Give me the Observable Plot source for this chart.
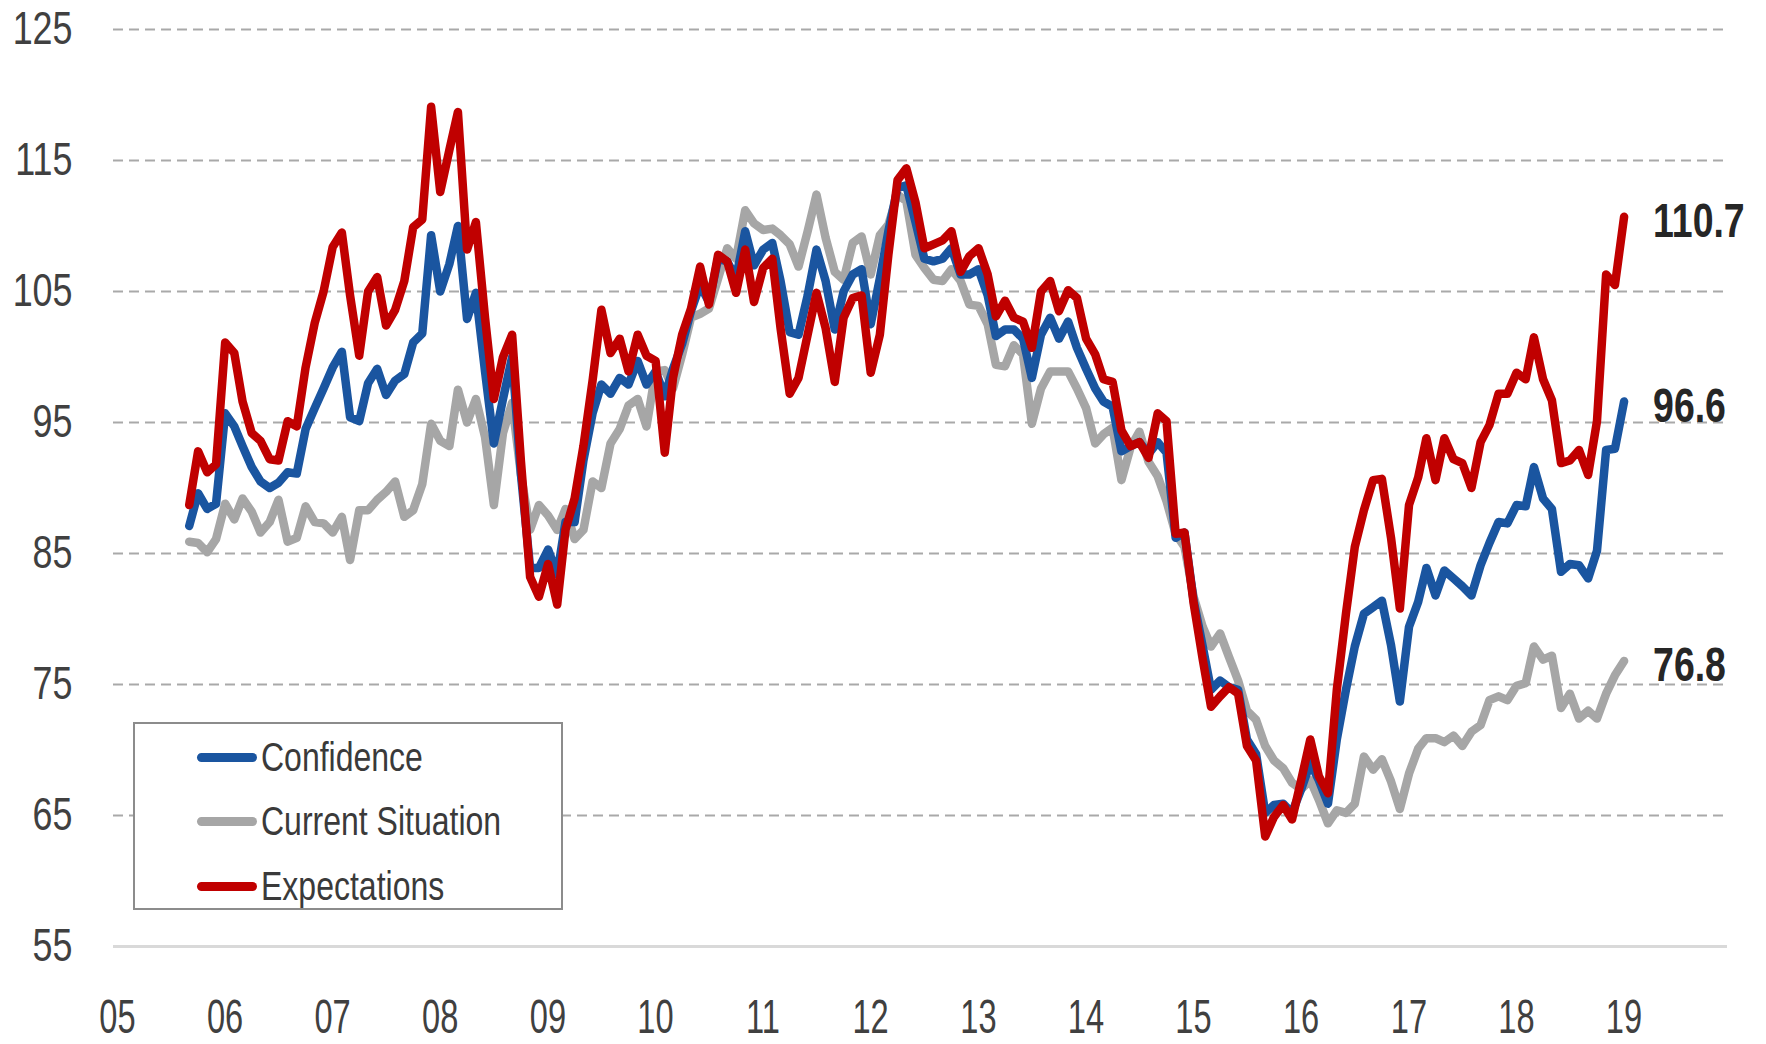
<!DOCTYPE html>
<html><head><meta charset="utf-8">
<script src="https://cdn.jsdelivr.net/npm/d3@7"></script>
<script src="https://cdn.jsdelivr.net/npm/@observablehq/plot@0.6"></script>
<style>
html,body{margin:0;padding:0;background:#fff;}
#wrap{position:relative;width:1766px;height:1044px;overflow:hidden;}
#legend{position:absolute;left:133px;top:722px;width:430px;height:188px;border:2px solid #8c8c8c;box-sizing:border-box;background:#fff;font-family:"Liberation Sans",Arial,sans-serif;}
.item{position:absolute;left:62px;height:44px;display:flex;align-items:center;}
.sw{width:60px;height:9px;border-radius:4.5px;flex:none;}
.lab{font-size:40px;color:#3a3a3a;display:inline-block;transform:scaleX(0.8);transform-origin:left center;white-space:nowrap;margin-left:4px;}
</style></head><body><div id="wrap"><div id="chart"></div><div id="legend"></div></div>
<script>
// Monthly series, September 2005 to January 2019
const seriesNames = ["Confidence", "Current Situation", "Expectations"];
const seriesColors = ["#1a55a0", "#a6a6a6", "#c00000"];
const yTicks = [55, 65, 75, 85, 95, 105, 115, 125];
const yearTicks = [2005,2006,2007,2008,2009,2010,2011,2012,2013,2014,2015,2016,2017,2018,2019];

const confidence = [87.1,89.6,88.4,88.8,95.7,94.7,93.2,91.6,90.5,90.0,
 90.4,91.2,91.1,94.5,96.1,97.6,99.2,100.4,95.4,95.1,
 98.0,99.1,97.1,98.2,98.7,101.1,101.8,109.3,105.0,107.1,
 110.0,102.9,104.9,98.9,93.4,96.8,100.0,91.0,83.9,83.9,
 85.3,83.4,87.4,87.4,92.1,95.7,97.9,97.2,98.4,97.9,
 99.7,97.9,98.9,97.0,99.1,101.0,103.5,105.5,104.2,107.5,
 107.3,106.0,109.6,107.0,108.2,108.7,105.8,101.9,101.7,104.7,
 108.2,105.8,102.1,105.0,106.3,106.7,102.5,106.0,109.6,112.9,
 113.1,110.3,107.5,107.3,107.5,108.3,106.3,106.3,106.7,104.7,
 101.6,102.1,102.1,101.4,98.4,101.7,103.0,101.4,102.7,100.7,
 99.1,97.6,96.6,96.2,92.8,93.2,93.5,92.6,93.5,92.7,
 86.2,86.6,81.4,77.9,74.6,75.3,74.8,74.6,70.8,69.7,
 65.2,65.8,65.9,65.2,67.0,69.0,67.7,65.9,70.8,74.6,
 77.9,80.4,80.9,81.4,78.0,73.7,79.4,81.3,83.9,81.8,
 83.7,83.1,82.5,81.8,84.1,85.8,87.4,87.3,88.7,88.6,
 91.6,89.2,88.4,83.6,84.2,84.1,83.1,85.2,92.9,93.0,
 96.6];

const currentSituation = [85.9,85.8,85.1,86.1,88.8,87.6,89.2,88.2,86.6,87.4,
 89.1,85.9,86.2,88.6,87.4,87.3,86.6,87.8,84.5,88.3,
 88.3,89.1,89.7,90.5,87.8,88.3,90.3,94.9,93.6,93.2,
 97.5,95.0,96.8,93.9,88.7,94.2,96.5,91.0,86.8,88.7,
 87.9,86.8,88.4,86.1,86.8,90.5,90.0,93.4,94.5,96.3,
 96.8,94.7,98.9,99.0,97.6,100.2,103.0,103.3,103.7,106.0,
 108.3,107.5,111.2,110.2,109.7,109.8,109.3,108.6,106.9,109.6,
 112.4,109.1,106.5,105.9,108.7,109.2,106.3,109.3,110.1,112.4,
 111.9,107.8,106.8,105.9,105.8,106.7,105.8,104.0,103.9,102.5,
 99.4,99.3,100.9,100.2,94.9,97.6,98.9,98.9,98.9,97.6,
 96.1,93.4,94.1,94.6,90.6,93.1,94.3,92.0,90.9,89.0,
 86.5,85.5,81.7,79.4,77.9,78.9,77.1,75.3,73.0,72.3,
 70.3,69.2,68.6,67.5,67.0,67.7,66.2,64.4,65.4,65.2,
 65.9,69.5,68.5,69.3,67.6,65.5,68.2,70.1,70.9,70.9,
 70.6,71.1,70.3,71.4,71.9,73.8,74.1,73.8,74.9,75.1,
 77.9,76.9,77.2,73.2,74.3,72.4,73.0,72.4,74.3,75.7,
 76.8];

const expectations = [88.7,92.8,91.2,91.8,101.1,100.3,96.6,94.2,93.6,92.2,
 92.1,95.1,94.7,99.2,102.6,105.0,108.4,109.5,104.7,100.1,
 105.0,106.1,102.4,103.6,105.8,109.9,110.5,119.1,112.6,115.8,
 118.7,108.2,110.3,103.0,96.8,100.0,101.7,92.0,83.2,81.7,
 84.2,81.1,86.8,89.2,93.2,98.2,103.6,100.3,101.4,98.9,
 101.7,100.1,99.7,92.7,98.4,101.7,103.7,106.9,104.0,107.8,
 107.3,104.9,108.2,104.2,106.8,107.5,102.2,97.2,98.4,101.7,
 104.9,102.2,98.1,103.0,104.5,104.7,98.8,101.7,107.8,113.5,
 114.4,111.8,108.3,108.6,108.9,109.6,106.5,107.7,108.3,106.3,
 103.1,104.3,103.0,102.7,100.7,105.0,105.8,103.5,105.1,104.5,
 101.4,100.2,98.3,98.1,94.4,93.2,93.5,92.3,95.7,95.1,
 86.5,86.6,81.2,76.9,73.3,74.1,74.8,74.3,70.3,69.2,
 63.4,64.9,65.8,64.7,67.7,70.8,68.0,66.7,74.6,80.4,
 85.5,88.3,90.6,90.7,86.2,80.8,88.7,90.8,93.8,90.6,
 93.8,92.2,91.9,90.0,93.5,94.8,97.2,97.2,98.8,98.3,
 101.5,98.3,96.7,91.9,92.1,92.9,91.0,95.1,106.3,105.5,
 110.7];

// build table
const monthDate = i => new Date(Date.UTC(2005, 8 + i, 15));
const seriesValues = [confidence, currentSituation, expectations];
const rows = seriesValues.map((vals, s) => vals.map((v, i) => ({series: seriesNames[s], date: monthDate(i), value: v})));
const lastPoints = rows.map(r => r[r.length - 1]);
const gridTicks = yTicks.filter(t => t !== 55);
const yearDates = yearTicks.map(y => new Date(Date.UTC(y, 0, 1)));

const drawOrder = [1, 0, 2]; // gray under blue under red

const svg = Plot.plot({
  width: 1766,
  height: 1044,
  marginLeft: 113,
  marginRight: 39,
  marginTop: 29,
  marginBottom: 98,
  style: {fontFamily: "'Liberation Sans', Arial, sans-serif", background: "#fff", overflow: "visible"},
  x: {type: "utc", domain: [new Date(Date.UTC(2005, 0, 1)), new Date(Date.UTC(2020, 0, 1))]},
  y: {domain: [55, 125]},
  marks: [
    Plot.ruleY(gridTicks, {stroke: "#a9a9a9", strokeWidth: 2, strokeDasharray: "10,6"}),
    Plot.ruleY([55], {stroke: "#d9d9d9", strokeWidth: 3}),
    Plot.axisY({ticks: yTicks, tickSize: 0, tickPadding: 41, fontSize: 46, color: "#404040", label: null}),
    Plot.axisX({ticks: yearDates, tickFormat: d3.utcFormat("%y"), tickSize: 0, tickPadding: 52, dx: 4, fontSize: 48, color: "#404040", label: null}),
    ...drawOrder.map(s => Plot.line(rows[s], {x: "date", y: "value", stroke: seriesColors[s], strokeWidth: 8.5, strokeLinejoin: "round", strokeLinecap: "round"})),
    Plot.text(lastPoints, {x: "date", y: "value", text: d => d.value.toFixed(1), dx: 29, dy: 5, textAnchor: "start", fontSize: 48, fontWeight: "bold", fill: "#262626", className: "endlab"})
  ]
});

function squeeze(root, sel, sx) {
  root.querySelectorAll(sel).forEach(t => {
    let tr = t.getAttribute("transform");
    if (!tr) {
      const x = t.getAttribute("x") || 0, y = t.getAttribute("y") || 0;
      tr = `translate(${x},${y})`;
      t.removeAttribute("x"); t.removeAttribute("y");
    }
    t.setAttribute("transform", tr + ` scale(${sx},1)`);
  });
}
squeeze(svg, '[aria-label="x-axis tick label"] text', 0.68);
squeeze(svg, '[aria-label="y-axis tick label"] text', 0.78);
// end-of-line value labels: the last text mark group that is not an axis
const textGroups = Array.from(svg.querySelectorAll('g[aria-label="text"]'));
textGroups.forEach(g => g.querySelectorAll("text").forEach(t => t.classList.add("endlab-t")));
squeeze(svg, 'text.endlab-t', 0.78);

document.getElementById("chart").appendChild(svg);

// legend (inside the plot area, as in the reference)
const legend = document.getElementById("legend");
const legendTops = [11, 75, 140];
seriesNames.forEach((name, i) => {
  const item = document.createElement("div");
  item.className = "item";
  item.style.top = legendTops[i] + "px";
  const sw = document.createElement("div");
  sw.className = "sw";
  sw.style.background = seriesColors[i];
  const lab = document.createElement("span");
  lab.className = "lab";
  lab.textContent = name;
  item.appendChild(sw); item.appendChild(lab);
  legend.appendChild(item);
});
</script></body></html>
